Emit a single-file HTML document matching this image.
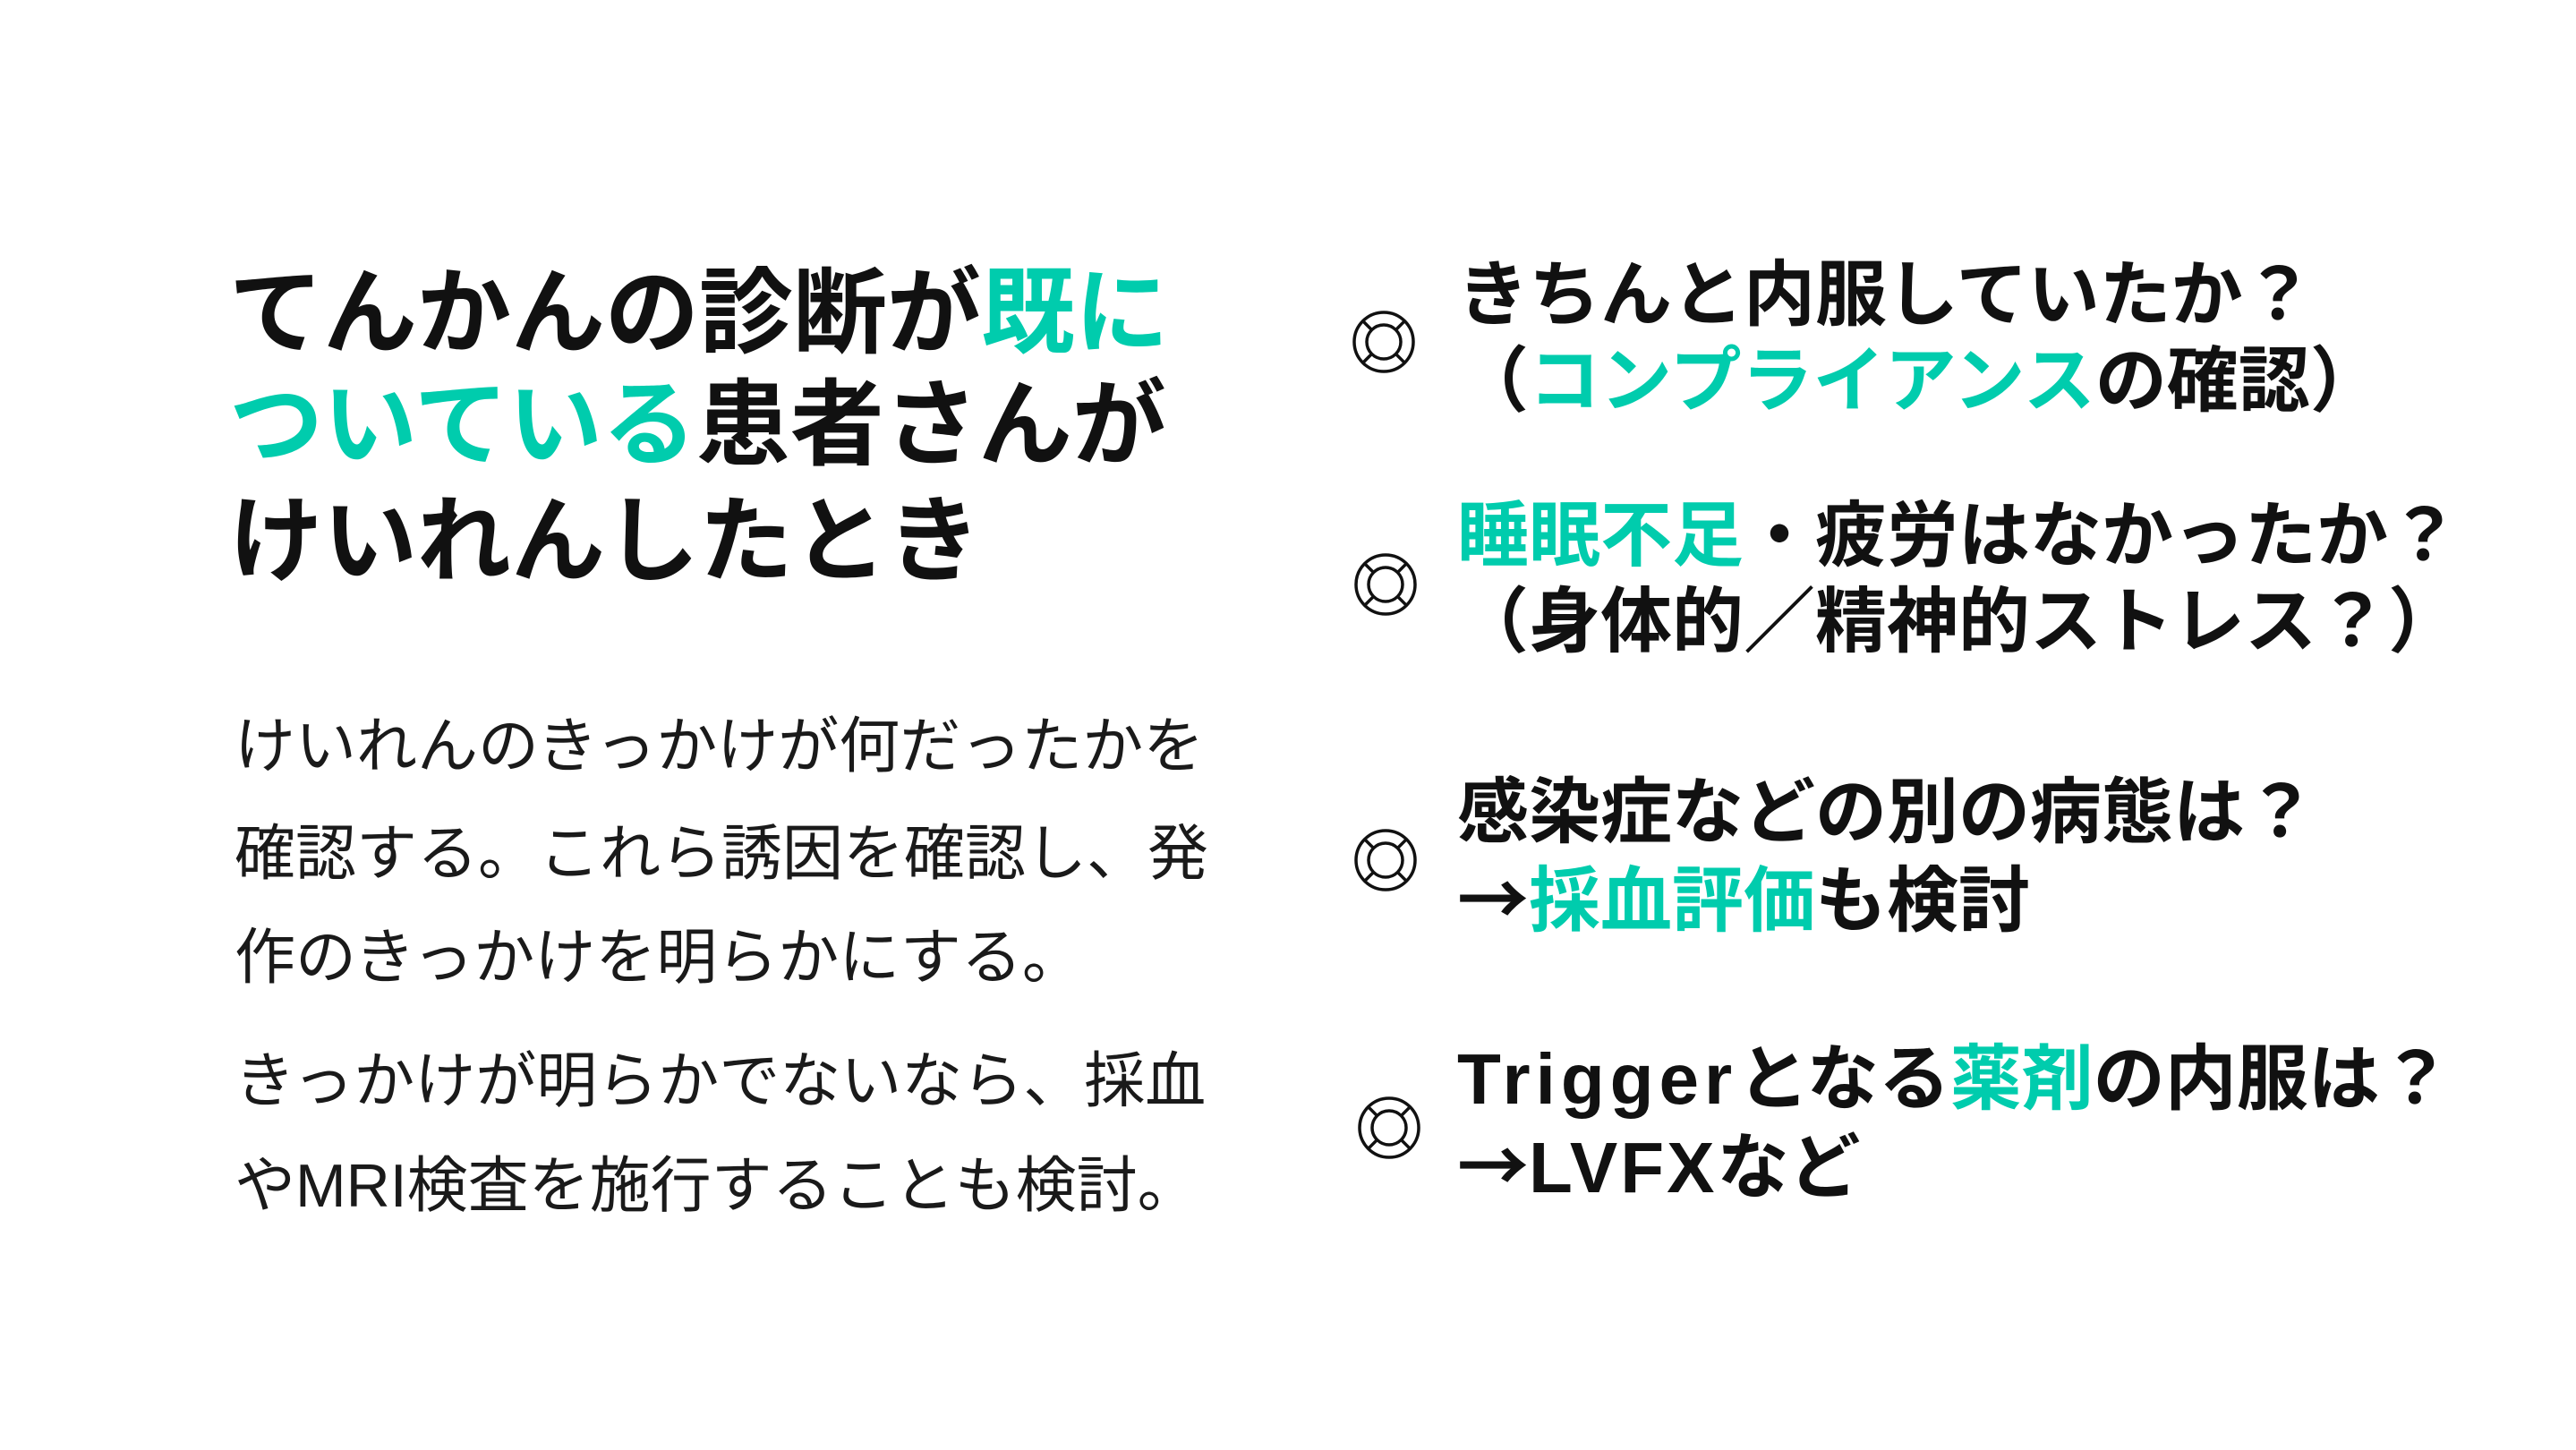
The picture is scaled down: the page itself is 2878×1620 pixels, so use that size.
<!DOCTYPE html>
<html><head><meta charset="utf-8"><style>
html,body{margin:0;padding:0;background:#fff;}
body{width:2878px;height:1620px;position:relative;overflow:hidden;font-family:"Liberation Sans","Noto Sans CJK JP",sans-serif;}
.l{position:absolute;white-space:nowrap;}
.t{font-size:105px;font-weight:700;line-height:105px;color:#111;left:256px;}
.b{font-size:68px;font-weight:400;line-height:68px;color:#1a1a1a;left:262px;}
.r{font-size:80px;font-weight:700;line-height:80px;color:#111;left:1628px;}
.g{color:#00ccad;}
.a{font-family:"Noto Sans CJK JP",sans-serif;}
svg{position:absolute;}
</style></head><body>
<div class="l t" style="top:298px">てんかんの診断が<span class="g">既に</span></div>
<div class="l t" style="top:423px"><span class="g">ついている</span>患者さんが</div>
<div class="l t" style="top:553px">けいれんしたとき</div>

<div class="l b" style="top:800px">けいれんのきっかけが何だったかを</div>
<div class="l b" style="top:920px">確認する。これら誘因を確認し、発</div>
<div class="l b" style="top:1036px">作のきっかけを明らかにする。</div>
<div class="l b" style="top:1174px">きっかけが明らかでないなら、採血</div>
<div class="l b" style="top:1291px">やMRI検査を施行することも検討。</div>

<div class="l r" style="top:290px">きちんと内服していたか？</div>
<div class="l r" style="top:386px">（<span class="g">コンプライアンス</span>の確認）</div>
<div class="l r" style="top:559px"><span class="g">睡眠不足</span>・疲労はなかったか？</div>
<div class="l r" style="top:655px">（身体的／精神的ストレス？）</div>
<div class="l r" style="top:868px">感染症などの別の病態は？</div>
<div class="l r" style="top:960px"><span class="a">→</span><span class="g">採血評価</span>も検討</div>
<div class="l r" style="top:1166px"><span style="letter-spacing:6px">Trigger</span>となる<span class="g">薬剤</span>の内服は？</div>
<div class="l r" style="top:1258px"><span class="a">→</span><span style="letter-spacing:3px">LVFX</span>など</div>

<svg width="2878" height="1620" style="left:0;top:0">
<defs>
<g id="ic" fill="none" stroke="#111" stroke-width="3.5">
<circle r="33"/><circle r="19"/>
<line x1="-23.3" y1="-23.3" x2="-13.4" y2="-13.4"/>
<line x1="23.3" y1="-23.3" x2="13.4" y2="-13.4"/>
<line x1="-23.3" y1="23.3" x2="-13.4" y2="13.4"/>
<line x1="23.3" y1="23.3" x2="13.4" y2="13.4"/>
</g>
</defs>
<use href="#ic" x="1546" y="382"/>
<use href="#ic" x="1548" y="653"/>
<use href="#ic" x="1548" y="961"/>
<use href="#ic" x="1552" y="1260"/>
</svg>
</body></html>
